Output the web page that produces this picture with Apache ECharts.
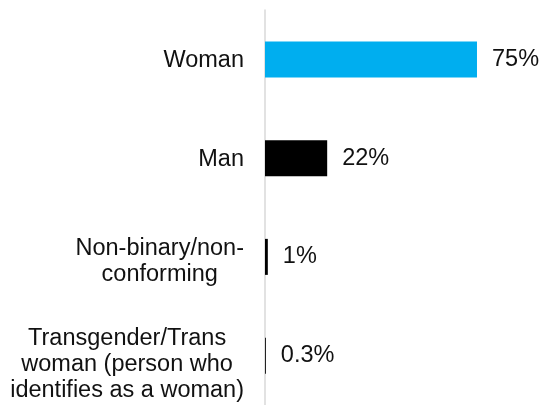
<!DOCTYPE html>
<html>
<head>
<meta charset="utf-8">
<script src="https://cdn.jsdelivr.net/npm/echarts@6/dist/echarts.min.js"></script>
<style>
  html, body { margin: 0; padding: 0; background: #fff; }
  #chart { width: 542px; height: 405px; }
</style>
</head>
<body>
<div id="chart"></div>
<script>
// Gender identity shares (percent)
const categories = [
  'Woman',
  'Man',
  'Non-binary/non-\nconforming',
  'Transgender/Trans\nwoman (person who\nidentifies as a woman)'
];
const values = [75, 22, 1, 0.3];
const valueLabels = ['75%', '22%', '1%', '0.3%'];
const barColors = ['#00AEEF', '#000000', '#000000', '#000000'];

const FONT = "'Liberation Sans', Arial, sans-serif";
const TEXT_COLOR = '#111111';

// wrapped category names sit a little lower in their band
const topPad = [3, 10, 17];
const categoryData = categories.map(name => ({
  value: name,
  textStyle: { padding: [topPad[name.split('\n').length - 1], 0, 0, 0] }
}));

const chart = echarts.init(document.getElementById('chart'), null, { renderer: 'canvas' });

chart.setOption({
  animation: false,
  grid: { left: 265, right: 0, top: 10, bottom: -5, containLabel: false },
  xAxis: {
    type: 'value',
    min: 0,
    max: 98,
    show: false
  },
  yAxis: {
    type: 'category',
    inverse: true,
    data: categoryData,
    axisLine: { show: true, lineStyle: { color: '#d9d9d9', width: 1.5 } },
    axisTick: { show: false },
    axisLabel: {
      margin: 21,
      align: 'right',
      // each line centred inside the right-aligned label block
      formatter: v => v.split('\n').map(s => '{c|' + s + '}').join('\n'),
      rich: {
        c: {
          align: 'center',
          color: TEXT_COLOR,
          fontFamily: FONT,
          fontSize: 23.5,
          lineHeight: 26
        }
      }
    }
  },
  series: [{
    type: 'bar',
    barWidth: 36,
    data: values.map((v, i) => ({ value: v, itemStyle: { color: barColors[i] } })),
    label: {
      show: true,
      position: 'right',
      distance: 15,
      color: TEXT_COLOR,
      fontFamily: FONT,
      fontSize: 23.5,
      formatter: p => valueLabels[p.dataIndex]
    }
  }]
});
</script>
</body>
</html>
